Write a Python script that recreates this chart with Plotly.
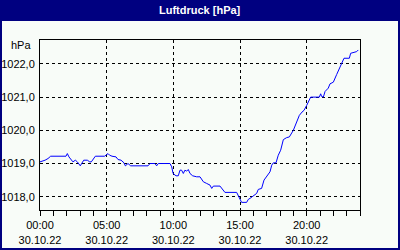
import plotly.graph_objects as go
import pandas as pd

# Time of day in hours (30.10.22) and air pressure values [hPa]
hours = [0.0, 0.2, 0.38, 0.6, 0.8, 1.95, 2.05, 2.17, 2.33, 2.47, 2.65, 2.8, 3.02, 3.28, 3.55,
         3.73, 3.85, 4.15, 4.85, 4.97, 5.1, 5.22, 5.4, 5.7, 5.85, 6.08, 6.3, 6.4, 6.6, 6.8,
         7.05, 8.1, 8.25, 8.62, 8.75, 8.87, 9.75, 9.88, 9.98, 10.2, 10.37, 10.5, 10.62, 10.75,
         10.87, 11.0, 11.12, 11.25, 11.45, 11.75, 12.0, 12.25, 12.5, 12.75, 12.88, 13.0, 13.5,
         13.62, 13.87, 14.75, 14.87, 15.05, 15.12, 15.5, 15.62, 15.75, 16.0, 16.25, 16.37,
         16.62, 16.8, 17.0, 17.25, 17.38, 17.5, 17.7, 17.87, 18.05, 18.25, 18.5, 18.7, 19.0,
         19.12, 19.25, 19.45, 19.65, 19.8, 20.0, 20.12, 20.3, 20.95, 21.05, 21.12, 21.25,
         21.38, 21.62, 21.75, 22.0, 22.25, 22.45, 22.62, 22.8, 23.2, 23.3, 23.75, 23.87]
pressure = [1019.05, 1019.07, 1019.1, 1019.15, 1019.22, 1019.22, 1019.3, 1019.2, 1019.1, 1019.05,
            1019.1, 1019.05, 1018.93, 1019.1, 1019.1, 1019.05, 1019.05, 1019.22, 1019.22, 1019.27,
            1019.3, 1019.25, 1019.22, 1019.2, 1019.12, 1019.1, 1019.02, 1018.93, 1019.0, 1018.93,
            1018.93, 1018.93, 1019.0, 1019.0, 1018.93, 1019.0, 1019.0, 1018.9, 1018.7, 1018.63,
            1018.63, 1018.8, 1018.8, 1018.7, 1018.8, 1018.77, 1018.82, 1018.7, 1018.63, 1018.6,
            1018.6, 1018.45, 1018.4, 1018.35, 1018.25, 1018.32, 1018.32, 1018.25, 1018.13, 1018.13,
            1018.03, 1017.9, 1017.83, 1017.83, 1017.92, 1017.95, 1018.02, 1018.1, 1018.22, 1018.25,
            1018.5, 1018.6, 1018.75, 1018.95, 1019.02, 1019.02, 1019.25, 1019.4, 1019.72, 1019.78,
            1019.8, 1020.0, 1020.12, 1020.2, 1020.45, 1020.55, 1020.6, 1020.75, 1020.87, 1021.0,
            1021.0, 1021.1, 1021.02, 1021.0, 1021.17, 1021.27, 1021.4, 1021.45, 1021.68, 1021.87,
            1022.02, 1022.17, 1022.17, 1022.32, 1022.37, 1022.42]

tick_hours = [0, 5, 10, 15, 20]
tick_labels = ["00:00<br>30.10.22", "05:00<br>30.10.22", "10:00<br>30.10.22",
               "15:00<br>30.10.22", "20:00<br>30.10.22"]
y_ticks = [1018, 1019, 1020, 1021, 1022]

title_text = "Luftdruck [hPa]"
unit_text = "hPa"

base = pd.Timestamp("2022-10-30 00:00")
times = [base + pd.Timedelta(hours=h) for h in hours]
tickvals = [base + pd.Timedelta(hours=h) for h in tick_hours]

NAVY = "#000080"
BG = "#F8FCF8"
FONT = "Liberation Sans"
DASH = "3px,3px"

W, H = 400, 250
ML, MR, MT, MB = 40, 40, 40, 40
pw, ph = W - ML - MR, H - MT - MB

def px(x):
    return (x - ML) / pw

def py(y):
    return (H - MB - y) / ph

fig = go.Figure()
fig.add_trace(go.Scatter(x=times, y=pressure, mode="lines",
                         line=dict(color="#0000FF", width=1), showlegend=False))

fig.update_layout(
    width=W, height=H,
    margin=dict(l=ML, r=MR, t=MT, b=MB, autoexpand=False),
    paper_bgcolor=BG, plot_bgcolor=BG,
    separators=",.",
    font=dict(family=FONT, size=11, color="black"),
    xaxis=dict(
        type="date", automargin=False,
        range=[base, base + pd.Timedelta(hours=24)],
        tickmode="array", tickvals=tickvals, ticktext=tick_labels,
        ticks="outside", ticklen=5, tickcolor="black", tickwidth=1,
        showgrid=True, gridcolor="black", griddash=DASH, gridwidth=1,
        showline=True, linecolor="black", linewidth=1, mirror=True,
        zeroline=False, ticklabelstandoff=0,
        minor=dict(ticks="outside", ticklen=5, tickcolor="black",
                   dtick=3600000, tick0=base, showgrid=False),
        tickfont=dict(family=FONT, size=11, color="black"),
        fixedrange=True,
    ),
    yaxis=dict(
        automargin=False,
        range=[1017.6, 1022.72],
        tickmode="array", tickvals=y_ticks, tickformat=".1f",
        ticks="", showgrid=True, gridcolor="black", griddash=DASH, gridwidth=1,
        showline=True, linecolor="black", linewidth=1, mirror=True,
        zeroline=False, ticklabelstandoff=2,
        tickfont=dict(family=FONT, size=11, color="black"),
        fixedrange=True,
    ),
    shapes=[
        # title bar
        dict(type="rect", xref="paper", yref="paper", x0=px(0), x1=px(W), y0=py(21), y1=py(0),
             fillcolor=NAVY, line=dict(width=0), layer="below"),
        # outer border
        dict(type="rect", xref="paper", yref="paper", x0=px(1), x1=px(W - 1), y0=py(H - 1), y1=py(1),
             fillcolor="rgba(0,0,0,0)", line=dict(color=NAVY, width=2), layer="above"),
    ],
    annotations=[
        dict(text="<b>" + title_text + "</b>", xref="paper", yref="paper",
             x=px(W / 2), y=py(10), xanchor="center", yanchor="middle", showarrow=False,
             font=dict(family=FONT, size=11, color="white")),
        dict(text=unit_text, xref="paper", yref="paper",
             x=px(33), y=py(45), xanchor="right", yanchor="middle", showarrow=False,
             font=dict(family=FONT, size=11, color="black")),
    ],
)

fig.write_html("out.html", config={"displayModeBar": False})
